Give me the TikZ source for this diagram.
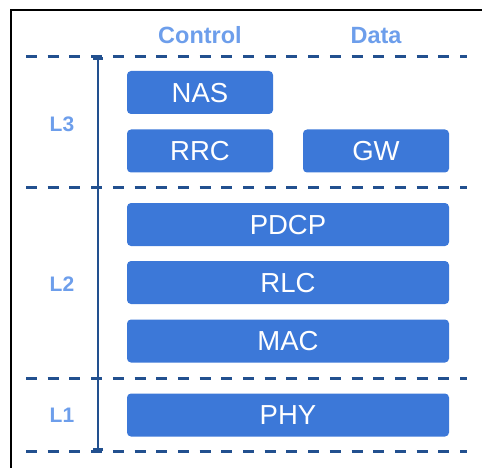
\documentclass[tikz,border=0pt]{standalone}
\usepackage{fontspec}
\setmainfont{Liberation Sans}
\usetikzlibrary{arrows.meta}
\definecolor{boxblue}{HTML}{3C78D8}
\definecolor{labelblue}{HTML}{6D9EEB}
\definecolor{rulerblue}{HTML}{22508F}
\tikzset{
  layerbox/.style={rectangle, rounded corners=4pt, fill=boxblue, draw=none,
    text=white, inner sep=0pt, minimum height=43pt,
    font=\fontsize{27.5}{30}\selectfont, text height=19.7pt, text depth=0pt},
  colhead/.style={text=labelblue, inner sep=0pt,
    font=\fontsize{23.5}{25}\selectfont\bfseries, text height=16.8pt, text depth=0pt},
  layerlabel/.style={text=labelblue, inner sep=0pt,
    font=\fontsize{21}{23}\selectfont\bfseries, text height=15pt, text depth=0pt},
  sepline/.style={rulerblue, line width=3pt, dash pattern=on 11pt off 10.7pt},
  ruler/.style={rulerblue, line width=2.8pt, {Bar[width=10pt]}-{Bar[width=10pt]}},
}
\begin{document}
\begin{tikzpicture}[x=1pt, y=-1pt]
\useasboundingbox (0,0) rectangle (482,468);
% outer frame
\draw[black, line width=1.5pt] (11,468) -- (11,10) -- (482,10);
% column headings
\node[colhead] (hctl) at (200,35) {Control};
\node[colhead] (hdat) at (376,35) {Data};
% layer separators
\foreach \yy in {57,187,378,451}
  \draw[sepline] (26,\yy) -- (467,\yy);
% vertical ruler
\coordinate (rtop) at (98,57);
\coordinate (rbot) at (98,451);
\draw[ruler] (rtop) -- (rbot);
% layer labels
\node[layerlabel] (l3) at (62,124) {L3};
\node[layerlabel] (l2) at (62,284) {L2};
\node[layerlabel] (l1) at (62,415) {L1};
% protocol boxes
\node[layerbox, minimum width=146pt] (nas) at (200,92.5) {NAS};
\node[layerbox, minimum width=146pt] (rrc) at (200,151) {RRC};
\node[layerbox, minimum width=146pt] (gw) at (376,151) {GW};
\node[layerbox, minimum width=322pt] (pdcp) at (288,224.5) {PDCP};
\node[layerbox, minimum width=322pt] (rlc) at (288,282.5) {RLC};
\node[layerbox, minimum width=322pt] (mac) at (288,341) {MAC};
\node[layerbox, minimum width=322pt] (phy) at (288,415) {PHY};
\end{tikzpicture}
\end{document}
